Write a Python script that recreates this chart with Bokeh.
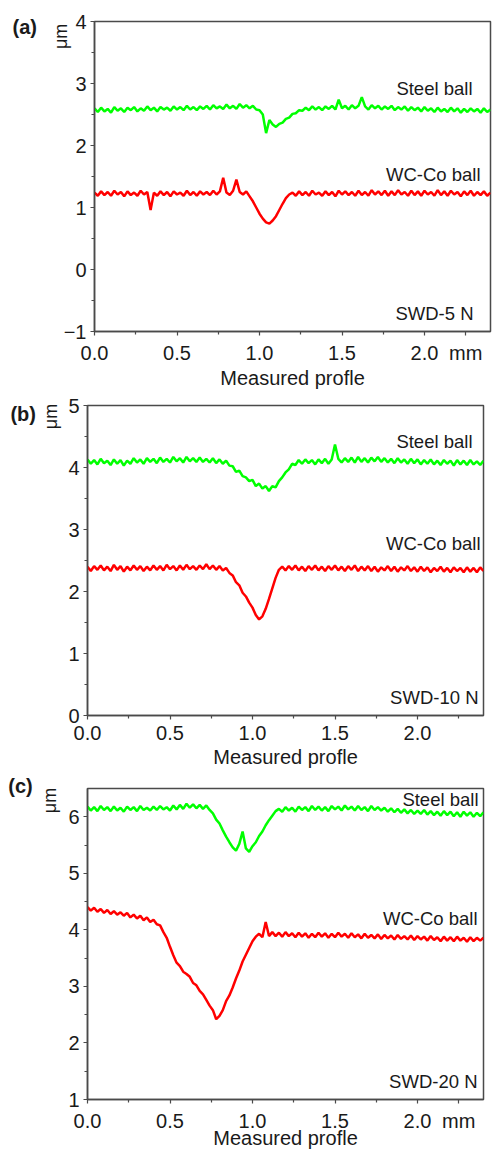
import numpy as np
from bokeh.plotting import figure
from bokeh.layouts import column, row
from bokeh.models import Label, FixedTicker, Range1d
from bokeh.embed import file_html
from bokeh.resources import INLINE

# sampling positions along the measured profile (mm)
x_mm = np.round(np.arange(121) * 0.02, 2)

# ---- (a) SWD-5 N ----
a_steel = [2.60, 2.54, 2.61, 2.55, 2.59, 2.53, 2.62, 2.56, 2.60, 2.54,
           2.61, 2.57, 2.62, 2.55, 2.60, 2.56, 2.63, 2.57, 2.61, 2.55,
           2.62, 2.58, 2.61, 2.56, 2.63, 2.58, 2.62, 2.57, 2.64, 2.58,
           2.62, 2.57, 2.63, 2.59, 2.64, 2.58, 2.65, 2.60, 2.63, 2.59,
           2.66, 2.60, 2.64, 2.59, 2.67, 2.61, 2.65, 2.60, 2.64, 2.58,
           2.57, 2.50, 2.20, 2.41, 2.34, 2.30, 2.35, 2.37, 2.43, 2.45,
           2.51, 2.52, 2.57, 2.56, 2.61, 2.57, 2.63, 2.58, 2.62, 2.57,
           2.63, 2.59, 2.64, 2.58, 2.74, 2.60, 2.64, 2.58, 2.65, 2.60,
           2.64, 2.78, 2.63, 2.58, 2.65, 2.60, 2.64, 2.58, 2.63, 2.59,
           2.64, 2.57, 2.62, 2.58, 2.63, 2.56, 2.62, 2.57, 2.61, 2.55,
           2.62, 2.56, 2.60, 2.54, 2.61, 2.55, 2.59, 2.54, 2.61, 2.55,
           2.60, 2.53, 2.59, 2.54, 2.60, 2.55, 2.59, 2.53, 2.60, 2.54,
           2.58]
a_wcco = [1.24, 1.19, 1.26, 1.20, 1.25, 1.19, 1.27, 1.21, 1.25, 1.18,
          1.26, 1.20, 1.24, 1.19, 1.27, 1.21, 1.25, 0.96, 1.24, 1.19,
          1.26, 1.20, 1.25, 1.18, 1.26, 1.21, 1.24, 1.19, 1.27, 1.20,
          1.25, 1.19, 1.26, 1.21, 1.25, 1.20, 1.27, 1.21, 1.26, 1.48,
          1.24, 1.20, 1.27, 1.45, 1.25, 1.21, 1.26, 1.18, 1.10, 1.00,
          0.90, 0.82, 0.76, 0.74, 0.79, 0.86, 0.96, 1.06, 1.15, 1.21,
          1.24, 1.19, 1.26, 1.20, 1.25, 1.19, 1.27, 1.21, 1.24, 1.19,
          1.26, 1.20, 1.25, 1.18, 1.27, 1.21, 1.26, 1.20, 1.25, 1.19,
          1.27, 1.20, 1.25, 1.19, 1.28, 1.21, 1.26, 1.20, 1.27, 1.19,
          1.26, 1.20, 1.28, 1.21, 1.25, 1.19, 1.27, 1.20, 1.26, 1.19,
          1.27, 1.21, 1.25, 1.19, 1.28, 1.20, 1.26, 1.19, 1.27, 1.21,
          1.25, 1.18, 1.26, 1.20, 1.27, 1.19, 1.25, 1.20, 1.26, 1.19,
          1.24]

# ---- (b) SWD-10 N ----
b_steel = [4.13, 4.06, 4.12, 4.05, 4.14, 4.07, 4.11, 4.04, 4.13, 4.06,
           4.12, 4.03, 4.11, 4.06, 4.15, 4.08, 4.13, 4.06, 4.15, 4.09,
           4.14, 4.07, 4.16, 4.09, 4.14, 4.08, 4.17, 4.10, 4.15, 4.08,
           4.17, 4.10, 4.15, 4.09, 4.16, 4.09, 4.14, 4.08, 4.15, 4.07,
           4.13, 4.06, 4.11, 4.03, 4.02, 3.93, 3.95, 3.86, 3.84, 3.78,
           3.80, 3.70, 3.74, 3.66, 3.70, 3.62, 3.70, 3.68, 3.78, 3.84,
           3.92, 3.97, 4.06, 4.04, 4.12, 4.06, 4.13, 4.07, 4.12, 4.05,
           4.13, 4.07, 4.14, 4.06, 4.13, 4.37, 4.14, 4.08, 4.15, 4.09,
           4.16, 4.08, 4.17, 4.09, 4.15, 4.08, 4.16, 4.10, 4.17, 4.09,
           4.15, 4.08, 4.14, 4.07, 4.15, 4.08, 4.13, 4.06, 4.14, 4.07,
           4.13, 4.05, 4.12, 4.06, 4.13, 4.05, 4.11, 4.04, 4.12, 4.06,
           4.11, 4.03, 4.12, 4.05, 4.11, 4.04, 4.12, 4.05, 4.10, 4.04,
           4.11]
b_wcco = [2.40, 2.33, 2.41, 2.35, 2.42, 2.34, 2.40, 2.33, 2.43, 2.35,
          2.41, 2.32, 2.40, 2.34, 2.42, 2.35, 2.41, 2.33, 2.40, 2.34,
          2.42, 2.35, 2.41, 2.34, 2.43, 2.36, 2.41, 2.34, 2.42, 2.35,
          2.43, 2.36, 2.41, 2.35, 2.42, 2.36, 2.44, 2.36, 2.42, 2.35,
          2.41, 2.34, 2.38, 2.30, 2.26, 2.15, 2.10, 1.98, 1.92, 1.82,
          1.74, 1.62, 1.55, 1.60, 1.72, 1.88, 2.05, 2.22, 2.35, 2.40,
          2.34, 2.41, 2.35, 2.42, 2.34, 2.40, 2.33, 2.41, 2.35, 2.42,
          2.34, 2.40, 2.33, 2.41, 2.35, 2.42, 2.34, 2.40, 2.33, 2.41,
          2.35, 2.42, 2.33, 2.40, 2.34, 2.41, 2.33, 2.40, 2.32, 2.39,
          2.34, 2.41, 2.33, 2.40, 2.32, 2.39, 2.34, 2.41, 2.33, 2.39,
          2.32, 2.40, 2.33, 2.39, 2.31, 2.38, 2.33, 2.40, 2.32, 2.38,
          2.31, 2.39, 2.33, 2.38, 2.31, 2.39, 2.32, 2.38, 2.31, 2.39,
          2.33]

# ---- (c) SWD-20 N ----
c_steel = [6.18, 6.11, 6.17, 6.10, 6.19, 6.12, 6.17, 6.10, 6.18, 6.11,
           6.16, 6.09, 6.18, 6.12, 6.17, 6.10, 6.19, 6.12, 6.16, 6.11,
           6.18, 6.12, 6.19, 6.13, 6.17, 6.11, 6.20, 6.13, 6.21, 6.14,
           6.23, 6.16, 6.22, 6.15, 6.21, 6.14, 6.20, 6.12, 6.06, 5.95,
           5.88, 5.76, 5.65, 5.55, 5.46, 5.40, 5.52, 5.74, 5.44, 5.38,
           5.48, 5.55, 5.66, 5.74, 5.85, 5.94, 6.02, 6.10, 6.14, 6.09,
           6.17, 6.11, 6.16, 6.09, 6.18, 6.12, 6.17, 6.10, 6.19, 6.12,
           6.18, 6.11, 6.17, 6.10, 6.19, 6.13, 6.18, 6.11, 6.20, 6.13,
           6.18, 6.11, 6.19, 6.12, 6.17, 6.10, 6.19, 6.12, 6.17, 6.11,
           6.16, 6.09, 6.15, 6.08, 6.14, 6.07, 6.13, 6.06, 6.12, 6.05,
           6.11, 6.05, 6.12, 6.04, 6.10, 6.03, 6.09, 6.02, 6.10, 6.03,
           6.09, 6.01, 6.08, 6.00, 6.09, 6.02, 6.08, 6.00, 6.07, 6.01,
           6.08]
c_wcco = [4.40, 4.34, 4.39, 4.32, 4.37, 4.30, 4.35, 4.28, 4.33, 4.27,
          4.31, 4.25, 4.30, 4.22, 4.27, 4.20, 4.25, 4.17, 4.22, 4.14,
          4.18, 4.10, 4.08, 3.96, 3.86, 3.70, 3.55, 3.42, 3.36, 3.26,
          3.22, 3.17, 3.06, 3.02, 2.92, 2.86, 2.76, 2.66, 2.58, 2.42,
          2.48, 2.58, 2.74, 2.84, 2.98, 3.14, 3.28, 3.44, 3.56, 3.68,
          3.80, 3.88, 3.93, 3.87, 4.14, 3.89, 3.96, 3.89, 3.95, 3.88,
          3.96, 3.89, 3.94, 3.87, 3.95, 3.88, 3.94, 3.86, 3.93, 3.87,
          3.95, 3.88, 3.94, 3.86, 3.93, 3.87, 3.95, 3.88, 3.93, 3.86,
          3.94, 3.87, 3.92, 3.85, 3.93, 3.86, 3.91, 3.85, 3.92, 3.84,
          3.91, 3.85, 3.90, 3.83, 3.91, 3.84, 3.89, 3.83, 3.90, 3.82,
          3.89, 3.83, 3.88, 3.81, 3.89, 3.82, 3.87, 3.80, 3.88, 3.81,
          3.87, 3.80, 3.88, 3.81, 3.86, 3.79, 3.87, 3.80, 3.86, 3.81,
          3.86]

x_ticks = [0.0, 0.5, 1.0, 1.5, 2.0]
x_tick_labels = ["0.0", "0.5", "1.0", "1.5", "2.0"]
x_minor = [0.25, 0.75, 1.25, 1.75, 2.25]
unit_tick = 2.25   # where the "mm" unit sits in the tick-label row

FONT = "Liberation Sans"
AXC = "#4a4a4a"
TXT = "#1a1a1a"
GREEN = "#00ff00"
RED = "#ff0000"


def panel(h, left, top, right, bottom, yr, yticks, ylabels, ymin,
          steel, wcco, tag, load, pos, show_mm, xl_standoff):
    p = figure(width=492, height=h, output_backend="svg", toolbar_location=None,
               x_range=Range1d(0, 2.4), y_range=Range1d(*yr),
               min_border_left=left, min_border_top=top,
               min_border_right=right, min_border_bottom=bottom)
    p.xgrid.visible = False
    p.ygrid.visible = False
    p.outline_line_color = AXC
    p.outline_line_width = 1.5
    p.background_fill_color = "white"
    p.border_fill_color = "white"

    p.line(x_mm, steel, line_color=GREEN, line_width=2.5)
    p.line(x_mm, wcco, line_color=RED, line_width=2.5)

    for ax in (p.xaxis[0], p.yaxis[0]):
        ax.axis_line_color = AXC
        ax.axis_line_width = 1.5
        ax.major_tick_line_color = AXC
        ax.minor_tick_line_color = AXC
        ax.major_tick_line_width = 1.2
        ax.minor_tick_line_width = 1.2
        ax.major_tick_in = 0
        ax.major_tick_out = 4
        ax.minor_tick_in = 0
        ax.minor_tick_out = 3
        ax.major_label_text_font = FONT
        ax.major_label_text_font_size = "20px"
        ax.major_label_text_color = TXT

    xt = list(x_ticks)
    xl = list(x_tick_labels)
    xm = list(x_minor)
    if show_mm:
        xt.append(unit_tick)
        xl.append("mm")
        xm.remove(unit_tick)
    xa = p.xaxis[0]
    xa.ticker = FixedTicker(ticks=xt, minor_ticks=xm)
    xa.major_label_overrides = dict(zip(xt, xl))
    xa.major_label_standoff = 6
    xa.axis_label = "Measured profle"
    xa.axis_label_text_font = FONT
    xa.axis_label_text_font_size = "20px"
    xa.axis_label_text_font_style = "normal"
    xa.axis_label_text_color = TXT
    xa.axis_label_standoff = xl_standoff

    ya = p.yaxis[0]
    ya.ticker = FixedTicker(ticks=yticks, minor_ticks=ymin)
    ya.major_label_overrides = dict(zip(yticks, ylabels))
    ya.major_label_standoff = 4

    def lab(text, x, y, size="18.5px", align="right", base="middle",
            style="normal", angle=0.0, units="screen", place=None):
        l = Label(x=x, y=y, x_units=units, y_units=units,
                  text=text, text_font=FONT, text_font_size=size,
                  text_color=TXT, text_align=align,
                  text_baseline=base, text_font_style=style, angle=angle)
        if place is None:
            p.add_layout(l)
        else:
            p.add_layout(l, place)

    # texts outside the frame: side panel, positioned in data units
    lab(tag, pos["tag"][0], pos["tag"][1], size="20px", align="left",
        style="bold", units="data", place="left")
    lab("μm", pos["um"][0], pos["um"][1], size="18px", align="center",
        angle=np.pi / 2, units="data", place="left")
    # texts inside the frame
    lab("Steel ball", pos["steel"][0], pos["steel"][1])
    lab("WC-Co ball", pos["wc"][0], pos["wc"][1])
    lab(load, pos["load"][0], pos["load"][1])
    return p


pa = panel(392, 94, 21, 2, 61, (-1, 4),
           [-1, 0, 1, 2, 3, 4], ["\u22121", "0", "1", "2", "3", "4"],
           [-0.5, 0.5, 1.5, 2.5, 3.5],
           a_steel, a_wcco, "(a)", "SWD-5 N",
           dict(tag=(-0.497, 3.91), um=(-0.206, 3.76), steel=(378, 243),
                wc=(386, 157), load=(379, 18)), True, 0)

pb = panel(378, 87, 13, 9, 54, (0, 5),
           [0, 1, 2, 3, 4, 5], ["0", "1", "2", "3", "4", "5"],
           [0.5, 1.5, 2.5, 3.5, 4.5],
           b_steel, b_wcco, "(b)", "SWD-10 N",
           dict(tag=(-0.467, 4.855), um=(-0.224, 4.823), steel=(385, 274),
                wc=(393, 172), load=(391, 18)), False, 3)

pc = panel(382, 87, 18, 9, 53, (1, 6.5),
           [1, 2, 3, 4, 5, 6], ["1", "2", "3", "4", "5", "6"],
           [1.5, 2.5, 3.5, 4.5, 5.5],
           c_steel, c_wcco, "(c)", "SWD-20 N",
           dict(tag=(-0.480, 6.553), um=(-0.225, 6.287), steel=(391, 300),
                wc=(390, 181), load=(390, 18)), True, -8)

layout = column(row(pa), row(pb), row(pc), spacing=0)
open("out.html", "w").write(file_html(layout, INLINE))
